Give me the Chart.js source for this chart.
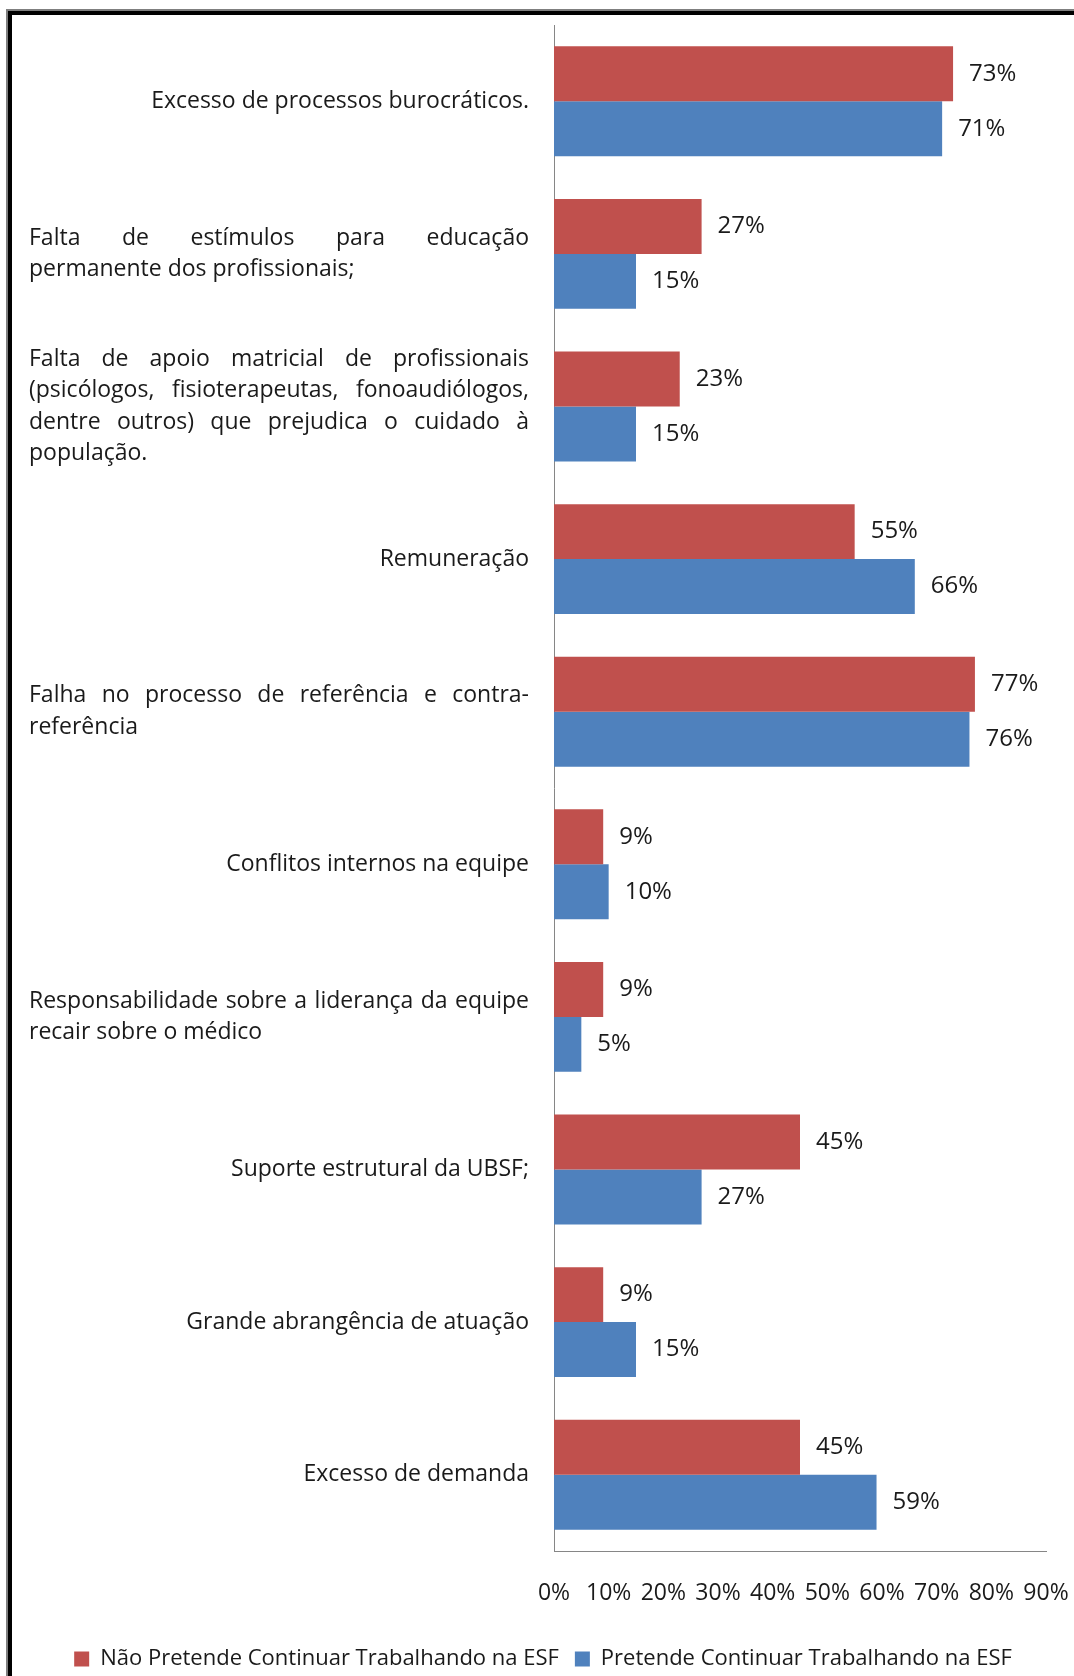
<!DOCTYPE html>
<html lang="pt-BR">
<head>
<meta charset="utf-8">
<title>Motivos - ESF</title>
<script src="https://cdn.jsdelivr.net/npm/chart.js@4.4.1/dist/chart.umd.min.js"></script>
<style>
  html, body { margin: 0; padding: 0; background: #fff; overflow: hidden; }
  #moldura { position: absolute; left: 6px; top: 9px; border-top: 2px solid #7f7f7f; border-left: 2px solid #7f7f7f; }
  #moldura-interna { border-top: 4px solid #000; border-left: 4px solid #000; }
  canvas { display: block; }
</style>
</head>
<body>
<div id="moldura"><div id="moldura-interna"><canvas id="grafico-barras" width="1062" height="1670"></canvas></div></div>
<script>
// Categorias (cada uma com as suas linhas, como no original)
const categorias = [
    ["Excesso de processos burocráticos."],
    ["Falta de estímulos para educação", "permanente dos profissionais;"],
    ["Falta de apoio matricial de profissionais", "(psicólogos, fisioterapeutas, fonoaudiólogos,", "dentre outros) que prejudica o cuidado à", "população."],
    ["Remuneração"],
    ["Falha no processo de referência e contra-", "referência"],
    ["Conflitos internos na equipe"],
    ["Responsabilidade sobre a liderança da equipe", "recair sobre o médico"],
    ["Suporte estrutural da UBSF;"],
    ["Grande abrangência de atuação"],
    ["Excesso de demanda"]
];

// Valores em %
const naoPretende = [73, 27, 23, 55, 77, 9, 9, 45, 9, 45];
const pretende = [71, 15, 15, 66, 76, 10, 5, 27, 15, 59];

// Rótulos do eixo X
const marcasX = ["0%", "10%", "20%", "30%", "40%", "50%", "60%", "70%", "80%", "90%"];

const nomesSeries = ["Não Pretende Continuar Trabalhando na ESF", "Pretende Continuar Trabalhando na ESF"];

const fonte = "'Open Sans', 'Noto Sans', sans-serif";

// Desenha os rótulos das categorias (justificados como no original)
const rotulosCategorias = {
    id: 'rotulosCategorias',
    afterDraw(chart) {
        const ctx = chart.ctx;
        const escala = chart.scales.y;
        const direita = chart.chartArea.left - 25;
        const esquerda = 17;
        const largura = direita - esquerda;
        const alturaLinha = 31.5;

        ctx.save();
        ctx.font = "23px " + fonte;
        ctx.fillStyle = "#1a1a1a";
        ctx.textBaseline = "middle";

        categorias.forEach(function (linhas, i) {
            const centro = escala.getPixelForValue(i);
            linhas.forEach(function (linha, j) {
                const y = centro + (j - (linhas.length - 1) / 2) * alturaLinha;
                if (linhas.length === 1) {
                    ctx.textAlign = "right";
                    ctx.fillText(linha, direita, y);
                } else if (j === linhas.length - 1) {
                    ctx.textAlign = "left";
                    ctx.fillText(linha, esquerda, y);
                } else {
                    // texto justificado
                    const palavras = linha.split(" ");
                    let soma = 0;
                    palavras.forEach(p => soma += ctx.measureText(p).width);
                    const espaco = (largura - soma) / (palavras.length - 1);
                    let x = esquerda;
                    ctx.textAlign = "left";
                    palavras.forEach(function (p) {
                        ctx.fillText(p, x, y);
                        x += ctx.measureText(p).width + espaco;
                    });
                }
            });
        });
        ctx.restore();
    }
};

// Valores ao lado das barras
const rotulosValores = {
    id: 'rotulosValores',
    afterDatasetsDraw(chart) {
        const ctx = chart.ctx;
        ctx.save();
        ctx.font = "24px " + fonte;
        ctx.fillStyle = "#1a1a1a";
        ctx.textAlign = "left";
        ctx.textBaseline = "middle";
        chart.data.datasets.forEach(function (dataset, d) {
            chart.getDatasetMeta(d).data.forEach(function (barra, i) {
                ctx.fillText(dataset.data[i] + "%", barra.x + 16, barra.y);
            });
        });
        ctx.restore();
    }
};

function initGrafico() {
    const ctx = document.getElementById("grafico-barras").getContext('2d');
    new Chart(ctx, {
        type: 'bar',
        data: {
            labels: categorias.map(l => l.join(" ")),
            datasets: [{
                label: nomesSeries[0],
                data: naoPretende,
                backgroundColor: "#C0504D",
                borderWidth: 0
            }, {
                label: nomesSeries[1],
                data: pretende,
                backgroundColor: "#4F81BD",
                borderWidth: 0
            }]
        },
        options: {
            indexAxis: 'y',
            responsive: false,
            devicePixelRatio: 1,
            animation: false,
            categoryPercentage: 0.72,
            barPercentage: 1.0,
            layout: {
                padding: { top: 10, right: 0, bottom: 5, left: 0 }
            },
            scales: {
                x: {
                    min: 0,
                    max: 90,
                    grid: { display: false, drawTicks: false },
                    border: { display: true, color: "#868686", width: 1 },
                    ticks: {
                        stepSize: 10,
                        autoSkip: false,
                        maxRotation: 0,
                        padding: 29,
                        color: "#1a1a1a",
                        font: { family: fonte, size: 23 },
                        callback: function (valor, indice) {
                            return marcasX[indice];
                        }
                    },
                    afterFit: function (escala) {
                        escala.height = 81;
                        escala.paddingRight = 28;
                    }
                },
                y: {
                    grid: { display: false, drawTicks: false },
                    border: { display: true, color: "#868686", width: 1 },
                    ticks: { display: false },
                    afterFit: function (escala) {
                        escala.width = 542;
                    }
                }
            },
            plugins: {
                legend: {
                    position: 'bottom',
                    labels: {
                        boxWidth: 15,
                        boxHeight: 15,
                        padding: 16,
                        color: "#1a1a1a",
                        font: { family: fonte, size: 22 }
                    }
                },
                tooltip: { enabled: false }
            }
        },
        plugins: [rotulosCategorias, rotulosValores]
    });
}

window.onload = initGrafico;
</script>
</body>
</html>
